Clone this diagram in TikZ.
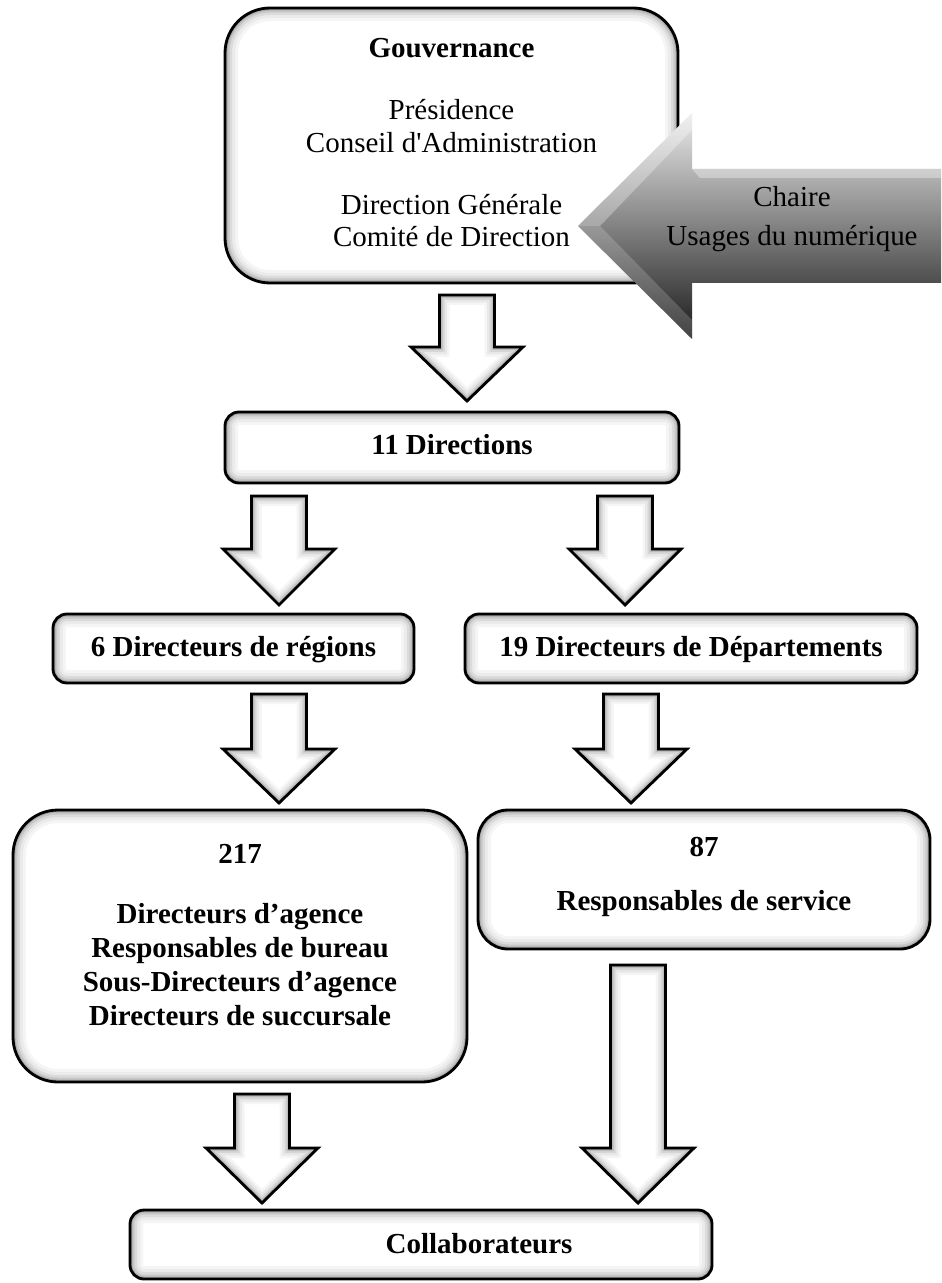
\documentclass[tikz,border=0pt]{standalone}
\usepackage{fontspec}
\setmainfont{Liberation Serif}
\usetikzlibrary{fit}
\tikzset{
  lbl/.style={anchor=base, inner sep=0pt, font=\fontsize{16.5}{19.5}\selectfont},
  blbl/.style={anchor=base, inner sep=0pt, font=\fontsize{16.5}{19.5}\selectfont\bfseries},
  box/.style={draw=black, line width=1.6pt, fill=white, rounded corners=#1,
    inner sep=0pt, outer sep=0pt,
    path picture={
      \foreach \w/\c in {0.52cm/4, 0.40cm/8, 0.28cm/14, 0.18cm/22, 0.10cm/33, 0.05cm/45}{
        \draw[line width=\w, draw=black!\c, rounded corners=#1]
          (path picture bounding box.south west) rectangle (path picture bounding box.north east);}
    }},
}
\newcommand\blockdown[4]{%
  \begin{scope}
    \clip (#1-27.5,#2) -- (#1+27.5,#2) -- (#1+27.5,#3) -- (#1+56,#3) -- (#1,#4) -- (#1-56,#3) -- (#1-27.5,#3) -- cycle;
    \fill[white] (#1-60,#2) rectangle (#1+60,#4);
    \foreach \w/\c in {0.40cm/4, 0.30cm/9, 0.20cm/16, 0.12cm/26, 0.06cm/40}{
      \draw[line width=\w, draw=black!\c, line join=miter]
        (#1-27.5,#2) -- (#1+27.5,#2) -- (#1+27.5,#3) -- (#1+56,#3) -- (#1,#4) -- (#1-56,#3) -- (#1-27.5,#3) -- cycle;}
  \end{scope}
  \draw[line width=1.6pt, line join=miter]
    (#1-27.5,#2) -- (#1+27.5,#2) -- (#1+27.5,#3) -- (#1+56,#3) -- (#1,#4) -- (#1-56,#3) -- (#1-27.5,#3) -- cycle;
}
\begin{document}
\begin{tikzpicture}[x=0.02cm,y=-0.02cm]
\useasboundingbox[fill=white] (0,0) rectangle (941,1283);

% Gouvernance
\node[box=0.9cm, fit={(225,8) (678,283)}] (gov) {};
\node[blbl] (govt) at (451.5,58) {Gouvernance};
\node[lbl] (pres) at (451.5,120) {Présidence};
\node[lbl] (ca) at (451.5,153) {Conseil d\textquotesingle Administration};
\node[lbl] (dg) at (451.5,215) {Direction Générale};
\node[lbl] (cd) at (451.5,247) {Comité de Direction};

% Chaire arrow (bevelled, shaded)
\shade[top color=black!8, middle color=black!40, bottom color=black!90]
  (578,226) -- (692,113) -- (692,169) -- (941,169) -- (941,283) -- (692,283) -- (692,339) -- cycle;
% light facets on the head
\fill[white, opacity=0.30] (578,226) -- (692,113) -- (692,130) -- (600,226) -- cycle;
\fill[white, opacity=0.18] (578,226) -- (600,226) -- (692,320) -- (692,339) -- cycle;
\fill[white, opacity=0.35] (692,169) -- (941,169) -- (941,178) -- (700,178) -- cycle;
\node[lbl] (ch1) at (792,207) {Chaire};
\node[lbl] (ch2) at (792,246) {Usages du numérique};

% arrows
\blockdown{467}{295}{347}{401}
\blockdown{279}{496}{549}{605}
\blockdown{625}{496}{549}{605}
\blockdown{279}{694}{749}{803}
\blockdown{631}{694}{749}{803}
\blockdown{262}{1094}{1148}{1203}
\blockdown{638}{965}{1148}{1203}

% 11 Directions
\node[box=0.28cm, fit={(225,412) (679,483)}] (dir) {};
\node[blbl] at (452,454) {11 Directions};

% row 2
\node[box=0.28cm, fit={(53,614) (414,683)}] (reg) {};
\node[blbl] at (233.5,656) {6 Directeurs de régions};
\node[box=0.28cm, fit={(465,614) (917,683)}] (dep) {};
\node[blbl] at (691,656) {19 Directeurs de Départements};

% row 3
\node[box=0.9cm, fit={(13,810) (467,1082)}] (ag) {};
\node[blbl] at (240,863) {217};
\node[blbl] at (240,923) {Directeurs d’agence};
\node[blbl] at (240,957) {Responsables de bureau};
\node[blbl] at (240,991) {Sous-Directeurs d’agence};
\node[blbl] at (240,1025) {Directeurs de succursale};

\node[box=0.6cm, fit={(478,810) (930,949)}] (srv) {};
\node[blbl] at (704,856) {87};
\node[blbl] at (704,910) {Responsables de service};

% Collaborateurs
\node[box=0.28cm, fit={(130,1210) (712,1279)}] (col) {};
\node[blbl] at (479,1253) {Collaborateurs};
\end{tikzpicture}
\end{document}
